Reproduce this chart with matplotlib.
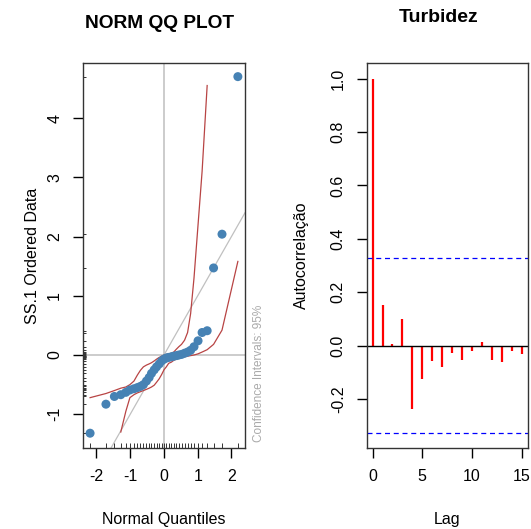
import numpy as np
import matplotlib
matplotlib.use("Agg")
import matplotlib.pyplot as plt

plt.rcParams['font.family'] = ['Liberation Sans', 'DejaVu Sans']
plt.rcParams['axes.unicode_minus'] = False

# QQ plot data (sorted sample vs normal quantiles)
theo_q = [-2.19, -1.72, -1.47, -1.28, -1.13, -1.01, -0.89, -0.79, -0.70, -0.61,
          -0.52, -0.44, -0.37, -0.29, -0.22, -0.14, -0.07, 0.00, 0.07, 0.14,
          0.22, 0.29, 0.37, 0.44, 0.52, 0.61, 0.70, 0.79, 0.89, 1.01,
          1.13, 1.28, 1.47, 1.72, 2.19]
ordered = [-1.32, -0.83, -0.70, -0.67, -0.63, -0.59, -0.57, -0.55, -0.53, -0.50,
           -0.44, -0.38, -0.31, -0.25, -0.20, -0.15, -0.10, -0.07, -0.05, -0.04,
           -0.03, -0.02, -0.01, 0.00, 0.01, 0.03, 0.05, 0.08, 0.14, 0.24,
           0.38, 0.41, 1.47, 2.04, 4.70]
# confidence envelope (upper for first 32 points, lower for last 32)
upper_env = [-0.72, -0.65, -0.60, -0.56, -0.54, -0.50, -0.44, -0.34, -0.26, -0.20,
             -0.17, -0.15, -0.13, -0.10, -0.07, -0.04, -0.02, 0.00, 0.01, 0.02,
             0.03, 0.05, 0.10, 0.14, 0.18, 0.25, 0.38, 0.70, 1.30, 2.20,
             3.10, 4.55]
lower_env = [-1.30, -0.95, -0.72, -0.67, -0.64, -0.62, -0.60, -0.58, -0.56, -0.54,
             -0.51, -0.46, -0.40, -0.33, -0.25, -0.20, -0.14, -0.12, -0.09, -0.07,
             -0.05, -0.04, -0.03, -0.02, -0.01, 0.00, 0.02, 0.05, 0.09, 0.18,
             0.42, 1.58]
line_intercept = 0.0
line_slope = 1.0

# ACF data
lags = list(range(16))
acf_vals = [1.0, 0.152, 0.006, 0.101, -0.235, -0.124, -0.057, -0.079, -0.025,
            -0.051, -0.020, 0.014, -0.051, -0.059, -0.020, -0.029]
conf_bound = 0.327

fig = plt.figure(figsize=(5.31, 5.29), dpi=100)

# ---- left: QQ plot ----
ax1 = fig.add_axes([0.1563, 0.1531, 0.305, 0.7278])
ax1.set_xlim(-2.40, 2.40)
ax1.set_ylim(-1.57, 4.93)
ax1.axhline(0, color='#C8C8C8', lw=1.3, zorder=1)
ax1.axvline(0, color='#C8C8C8', lw=1.3, zorder=1)
xl = np.array(ax1.get_xlim())
ax1.plot(xl, line_intercept + line_slope * xl, color='#C0C0C0', lw=0.9, zorder=1)
n = len(theo_q)
ax1.plot(theo_q[:len(upper_env)], upper_env, color='#B84444', lw=0.9, zorder=2)
ax1.plot(theo_q[n - len(lower_env):], lower_env, color='#B84444', lw=0.9, zorder=2)
ax1.scatter(theo_q, ordered, s=42, color='#4682B4', edgecolors='none', zorder=3)
# rugs
ax1.vlines(theo_q, 0, 0.012, transform=ax1.get_xaxis_transform(), color='#333333', lw=0.7)
ax1.hlines(ordered, 0, 0.02, transform=ax1.get_yaxis_transform(), color='#333333', lw=0.7)
ax1.set_xticks([-2, -1, 0, 1, 2])
ax1.set_yticks([-1, 0, 1, 2, 3, 4])
ax1.set_xlabel('Normal Quantiles', fontsize=11.5, labelpad=20)
ax1.set_ylabel('SS.1 Ordered Data', fontsize=11.5, labelpad=5)
ax1.text(1.085, 0.195, 'Confidence Intervals: 95%', transform=ax1.transAxes,
         rotation=90, fontsize=8.5, color='#AAAAAA', ha='center', va='center')

# ---- right: ACF ----
ax2 = fig.add_axes([0.6905, 0.1531, 0.3032, 0.7278])
ax2.set_xlim(-0.6, 15.6)
ax2.set_ylim(-0.382, 1.058)
ax2.vlines(lags, 0, acf_vals, color='red', lw=1.6)
ax2.axhline(0, color='black', lw=1)
ax2.axhline(conf_bound, color='blue', lw=0.9, ls=(0, (4, 3)))
ax2.axhline(-conf_bound, color='blue', lw=0.9, ls=(0, (4, 3)))
ax2.set_xticks([0, 5, 10, 15])
ax2.set_yticks([-0.2, 0.0, 0.2, 0.4, 0.6, 0.8, 1.0])
ax2.set_yticklabels(['-0.2', '0.0', '0.2', '0.4', '0.6', '0.8', '1.0'])
ax2.set_xlabel('Lag', fontsize=11.5, labelpad=20)
ax2.set_ylabel('Autocorrelação', fontsize=11.5, labelpad=16)

# titles placed as in the reference
fig.text(160 / 531, 1 - 23 / 529, 'NORM QQ PLOT', fontsize=13.8, fontweight='bold',
         ha='center', va='center')
fig.text(439 / 531, 1 - 17.5 / 529, 'Turbidez', fontsize=14, fontweight='bold',
         ha='center', va='center')

for ax in (ax1, ax2):
    ax.tick_params(length=7, width=1, labelsize=11.5, pad=8)
    ax.tick_params(axis='y', labelrotation=90)
    for lab in ax.get_yticklabels():
        lab.set_va('center')
    for sp in ax.spines.values():
        sp.set_linewidth(1)
        sp.set_color('#333333')

fig.savefig('out.png', dpi=100)
